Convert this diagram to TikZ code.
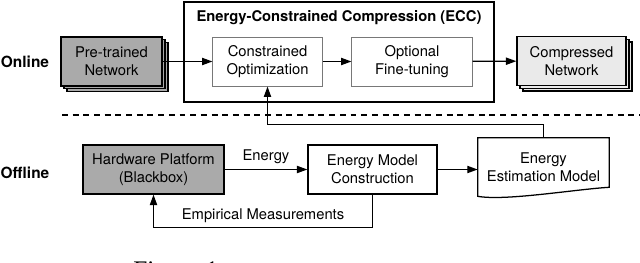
\documentclass[tikz,border=0pt]{standalone}
\usepackage{fontspec}
\setmainfont{TeX Gyre Heros}
\newfontfamily\captionserif{Liberation Serif}
\usetikzlibrary{arrows.meta,positioning,calc,shadows}
\definecolor{netgray}{RGB}{170,170,170}
\definecolor{netlight}{RGB}{234,234,234}
\definecolor{innergray}{RGB}{120,120,120}

\begin{document}
\begin{tikzpicture}[x=0.025cm, y=-0.025cm,
  font=\fontsize{10.5}{12.5}\selectfont,
  box/.style={draw, rectangle, line width=0.9pt, minimum height=1.225cm, inner sep=0pt, align=center},
  netbox/.style={box, double copy shadow={shadow xshift=0.075cm, shadow yshift=-0.07cm}},
  inbox/.style={box, draw=innergray, line width=0.7pt},
  arr/.style={-{Triangle[length=2.6mm, width=1.8mm]}, line width=0.9pt},
  sidelabel/.style={font=\fontsize{11}{13}\selectfont\bfseries},
  titlelabel/.style={font=\fontsize{10.5}{12.5}\selectfont\bfseries}
]
\useasboundingbox (0,0) rectangle (640,263);

% online part
\node[sidelabel] (online) at (25,62) {Online};
\node[netbox, fill=netgray, minimum width=2.525cm] (pre) at (111.5,61.5) {Pre-trained\\Network};
\node[draw, line width=1.6pt, minimum width=7.75cm, minimum height=2.5cm] (ecc) at (339,52) {};
\node[titlelabel] (ecctitle) at (339,18) {Energy-Constrained Compression (ECC)};
\node[inbox, minimum width=2.725cm] (co) at (267.5,61.5) {Constrained\\Optimization};
\node[inbox, minimum width=3.0cm] (ft) at (412,61.5) {Optional\\Fine-tuning};
\node[netbox, fill=netlight, minimum width=2.725cm] (comp) at (571.5,61) {Compressed\\Network};

\draw[arr] (pre) -- (co);
\draw[arr] (co) -- (ft);
\draw[arr] (ft) -- (comp);

% separator
\coordinate (sepl) at (62,115);
\coordinate (sepr) at (640,115);
\draw[line width=0.9pt, dash pattern=on 4.2pt off 3.4pt] (sepl) -- (sepr);

% offline part
\node[sidelabel] (offline) at (25,173) {Offline};
\node[box, fill=netgray, minimum width=3.525cm] (hw) at (153.5,169.5) {Hardware Platform\\(Blackbox)};
\node[box, minimum width=3.225cm] (emc) at (372.5,169.5) {Energy Model\\Construction};
\node[minimum width=3.275cm, minimum height=1.45cm, inner sep=0pt, align=center] (eem) at (543.5,167) {Energy\\Estimation Model};
\draw[line width=0.9pt] (eem.north west) -- (eem.north east) -- ($(eem.south east)+(0,-9)$)
  .. controls ($(eem.south east)+(-34,-7)$) and ($(eem.south west)+(27,5)$) .. (eem.south west) -- cycle;

\draw[arr] (hw) -- node[above] (energylbl) {Energy} (emc);
\draw[arr] (emc) -- (eem.west |- emc);
\draw[arr] (emc.south) -- ++(0,33) -| node[pos=0.25, above] (emplbl) {Empirical Measurements} (hw.south);
\draw[arr] (eem.north) -- ++(0,-13) -| (co.south);

% caption, cut by the page edge
\node[font=\captionserif\fontsize{18}{20}\selectfont, anchor=base west, inner sep=0pt] (cap) at (133,278) {Figure 1};
\end{tikzpicture}
\end{document}
